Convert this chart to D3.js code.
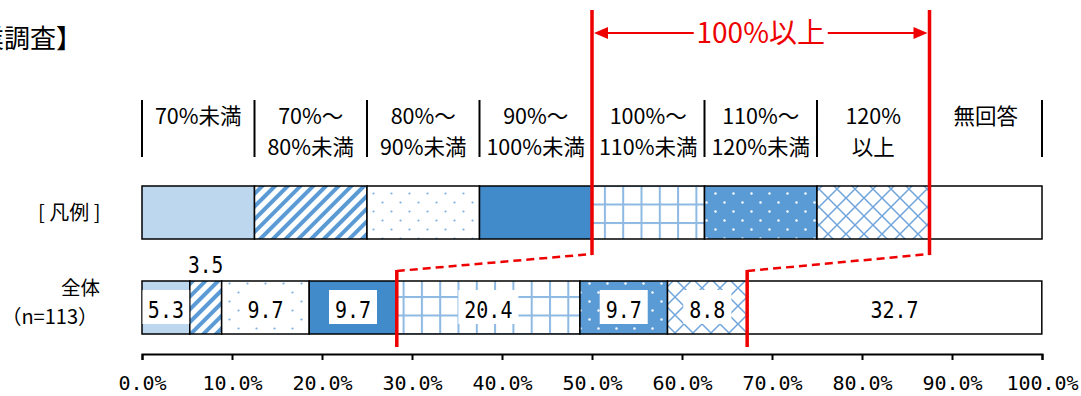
<!DOCTYPE html>
<html><head><meta charset="utf-8">
<script src="https://cdn.jsdelivr.net/npm/d3@7"></script>
<style>
body{margin:0;background:#fff;}
svg{display:block;}
</style></head>
<body>
<svg id="c" width="1081" height="396"></svg>
<script>
const titleText = "【企業調査】";
const legendLabel = "[ 凡例 ]";
const rowLabel = ["全体", "（n=113）"];
const categories = [
  ["70%未満"], ["70%～","80%未満"], ["80%～","90%未満"], ["90%～","100%未満"],
  ["100%～","110%未満"], ["110%～","120%未満"], ["120%","以上"], ["無回答"]
];
const values = [5.31, 3.54, 9.73, 9.73, 20.35, 9.73, 8.85, 32.74];
const ticks = [0,10,20,30,40,50,60,70,80,90,100];
const bracketText = "100%以上";
const bracketFrom = 4, bracketTo = 6; // category indices covered by 100%以上

const svg = d3.select("#c");
const JP = "'Noto Sans CJK JP','Noto Sans',sans-serif";
const MONO = "'DejaVu Sans Mono',monospace";
const RED = "#ee0000";

const x = d3.scaleLinear().domain([0,100]).range([142,1042]);
const band = d3.scaleBand().domain(d3.range(categories.length)).range([142,1042]).padding(0);

// patterns
const defs = svg.append("defs");
function pat(id,w,h,bg){ const p=defs.append("pattern").attr("id",id).attr("patternUnits","userSpaceOnUse").attr("width",w).attr("height",h); p.append("rect").attr("width",w).attr("height",h).attr("fill",bg); return p; }
pat("p0",10,10,"#BDD7EE");
{ const p=pat("p1",9,9,"#fff").attr("patternTransform","rotate(45)"); p.append("rect").attr("width",4).attr("height",9).attr("fill","#5B9BD5"); }
{ const p=pat("p2",18,18,"#fff"); p.append("circle").attr("cx",4.5).attr("cy",4.5).attr("r",1.1).attr("fill","#7FB1E0"); p.append("circle").attr("cx",13.5).attr("cy",13.5).attr("r",1.1).attr("fill","#7FB1E0"); }
pat("p3",10,10,"#428BCA");
{ const p=pat("p4",18.3,18.5,"#fff"); p.append("rect").attr("x",0).attr("y",0).attr("width",2).attr("height",18.5).attr("fill","#8DB9E3"); p.append("rect").attr("x",0).attr("y",0).attr("width",18.3).attr("height",2).attr("fill","#8DB9E3"); }
{ const p=pat("p5",18,18,"#5B9BD5"); p.append("circle").attr("cx",4.5).attr("cy",4.5).attr("r",1.2).attr("fill","#fff"); p.append("circle").attr("cx",13.5).attr("cy",13.5).attr("r",1.2).attr("fill","#fff"); }
{ const p=pat("p6",18,18,"#fff"); p.append("path").attr("d","M0,0L18,18M18,0L0,18").attr("stroke","#6FA5DA").attr("stroke-width",1.5); }
pat("p7",10,10,"#fff");

// title
svg.append("text").attr("x",82).attr("y",48).attr("text-anchor","end").attr("font-family",JP).attr("font-size",26).attr("fill","#000").text(titleText);

// header labels
const hdr = svg.append("g");
categories.forEach((lines,i)=>{
  const cx = band(i)+band.bandwidth()/2;
  const t = hdr.append("text").attr("text-anchor","middle").attr("font-family",JP).attr("font-size",21.5).attr("fill","#000");
  lines.forEach((l,j)=> t.append("tspan").attr("x",cx).attr("y",124+j*31).text(l));
});
hdr.selectAll("line").data(d3.range(categories.length+1)).join("line")
  .attr("x1",i=> i<categories.length?band(i):x(100)).attr("x2",i=> i<categories.length?band(i):x(100))
  .attr("y1",100).attr("y2",157).attr("stroke","#000").attr("stroke-width",2);

// legend bar
svg.append("text").attr("x",38).attr("y",220).attr("font-family",JP).attr("font-size",20).attr("fill","#000").attr("xml:space","preserve").text(legendLabel);
svg.append("g").selectAll("rect").data(categories).join("rect")
  .attr("x",(d,i)=>band(i)).attr("y",186).attr("width",band.bandwidth()).attr("height",53)
  .attr("fill",(d,i)=>`url(#p${i})`).attr("stroke","#000").attr("stroke-width",1.5);

// data bar
let cum=0; const segs = values.map((v,i)=>{ const s={i,v,x0:cum,x1:cum+v}; cum+=v; return s; });
svg.append("text").attr("x",100).attr("y",295).attr("text-anchor","end").attr("font-family",JP).attr("font-size",19.5).text(rowLabel[0]);
svg.append("text").attr("x",98).attr("y",324).attr("text-anchor","end").attr("font-family",JP).attr("font-size",20).text(rowLabel[1]);
const dg = svg.append("g");
dg.selectAll("rect").data(segs).join("rect")
  .attr("x",d=>x(d.x0)).attr("y",281).attr("width",d=>x(d.x1)-x(d.x0)).attr("height",53)
  .attr("fill",d=>`url(#p${d.i})`).attr("stroke","#000").attr("stroke-width",1.5);
const fmt = d3.format(".1f");
segs.forEach(d=>{
  const w = x(d.x1)-x(d.x0), cx=(x(d.x0)+x(d.x1))/2;
  const txt = fmt(d.v);
  const tw = txt.length*12;
  if (w < tw+4) {
    svg.append("text").attr("transform",`translate(${cx},273) scale(0.85,1)`).attr("text-anchor","middle").attr("font-family",MONO).attr("font-size",23).text(txt);
  } else {
    if (d.i!==7) {
      const bw = Math.min(w-1, tw+12);
      dg.append("rect").attr("x",cx-bw/2).attr("y",290).attr("width",bw).attr("height",34).attr("fill","#fff");
    }
    dg.append("text").attr("transform",`translate(${cx},318) scale(0.85,1)`).attr("text-anchor","middle").attr("font-family",MONO).attr("font-size",23.5).text(txt);
  }
});

// axis
const ax = svg.append("g").attr("transform","translate(0,354)")
  .call(d3.axisBottom(x).tickValues(ticks).tickSize(6).tickFormat(d=>fmt(d)+"%"));
ax.select(".domain").attr("stroke","#000").attr("stroke-width",2);
ax.selectAll(".tick line").attr("stroke","#000").attr("stroke-width",2);
ax.selectAll(".tick text").attr("font-family",MONO).attr("font-size",20).attr("fill","#000").attr("y",22);

// red bracket
const xa = band(bracketFrom), xb = band(bracketTo)+band.bandwidth();
const xLo = x(segs[bracketFrom].x0), xHi = x(segs[bracketTo].x1);
const rg = svg.append("g").attr("stroke",RED).attr("fill","none");
rg.append("line").attr("x1",xa).attr("x2",xa).attr("y1",10).attr("y2",255).attr("stroke-width",3.5);
rg.append("line").attr("x1",xb).attr("x2",xb).attr("y1",10).attr("y2",255).attr("stroke-width",3.5);
rg.append("line").attr("x1",xLo).attr("x2",xLo).attr("y1",270).attr("y2",347).attr("stroke-width",3.5);
rg.append("line").attr("x1",xHi).attr("x2",xHi).attr("y1",270).attr("y2",347).attr("stroke-width",3.5);
rg.append("line").attr("x1",xLo).attr("y1",271).attr("x2",xa).attr("y2",254).attr("stroke-width",2.5).attr("stroke-dasharray","8,5");
rg.append("line").attr("x1",xHi).attr("y1",271).attr("x2",xb).attr("y2",254).attr("stroke-width",2.5).attr("stroke-dasharray","8,5");
const mid=(xa+xb)/2;
rg.append("line").attr("x1",xa+12).attr("x2",mid-67).attr("y1",33).attr("y2",33).attr("stroke-width",2);
rg.append("line").attr("x1",mid+67).attr("x2",xb-12).attr("y1",33).attr("y2",33).attr("stroke-width",2);
rg.append("path").attr("d",`M${xa+2},33L${xa+16},27L${xa+16},39Z`).attr("fill",RED).attr("stroke","none");
rg.append("path").attr("d",`M${xb-2},33L${xb-16},27L${xb-16},39Z`).attr("fill",RED).attr("stroke","none");
svg.append("text").attr("x",mid).attr("y",43).attr("text-anchor","middle").attr("font-family",JP).attr("font-size",28).attr("fill",RED).text(bracketText);
</script>
</body></html>
